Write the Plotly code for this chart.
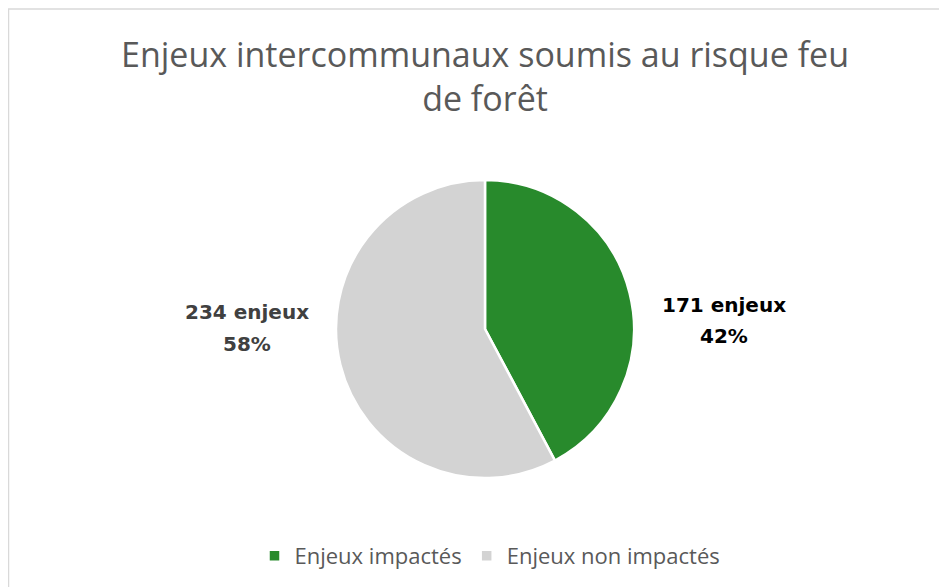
import plotly.graph_objects as go

categories = ["Enjeux impactés", "Enjeux non impactés"]
values = [171, 234]
colors = ["#288A2C", "#D3D3D3"]
label_colors = ["#000000", "#404040"]
title_text = "Enjeux intercommunaux soumis au risque feu<br>de forêt"

W, H = 947, 587
OFF = 8  # page body margin
total = sum(values)


def px(x):
    return (x - OFF) / W


def py(y):
    return 1 - (y - OFF) / H


fig = go.Figure()
fig.add_trace(go.Pie(
    labels=categories,
    values=values,
    marker=dict(colors=colors, line=dict(color="white", width=2.5)),
    sort=False,
    direction="clockwise",
    rotation=0,
    textinfo="none",
    hoverinfo="label+value+percent",
    domain=dict(x=[px(336), px(634)], y=[py(478), py(180)]),
    showlegend=True,
))

# data labels (two lines each)
label_pos = [(723.5, 304.5, 336), (246.5, 311.5, 344)]
for v, c, (lx, ly1, ly2) in zip(values, label_colors, label_pos):
    for txt, yy in ((f"<b>{v} enjeux</b>", ly1), (f"<b>{round(100 * v / total)}%</b>", ly2)):
        fig.add_annotation(
            x=px(lx), y=py(yy), xref="paper", yref="paper",
            xanchor="center", yanchor="middle",
            text=txt, showarrow=False, align="center",
            font=dict(family="DejaVu Sans, sans-serif", size=20, color=c),
        )

# title
fig.add_annotation(
    x=px(485), y=py(76), xref="paper", yref="paper",
    xanchor="center", yanchor="middle", showarrow=False, align="center",
    text=title_text,
    font=dict(family="Open Sans, sans-serif", size=34, color="#595959"),
)

fig.add_shape(type="rect", xref="paper", yref="paper",
              x0=0.5 / W, x1=1.05, y0=-0.05, y1=1 - 1 / H,
              line=dict(color="#D9D9D9", width=1.5), fillcolor="rgba(0,0,0,0)")

fig.update_layout(
    width=W, height=H,
    margin=dict(l=0, r=0, t=0, b=0),
    paper_bgcolor="white", plot_bgcolor="white",
    legend=dict(orientation="h", x=px(490), xanchor="center", y=py(556), yanchor="middle",
                font=dict(family="Open Sans, sans-serif", size=22, color="#595959"),
                traceorder="normal"),
)

fig.write_html("out.html")
